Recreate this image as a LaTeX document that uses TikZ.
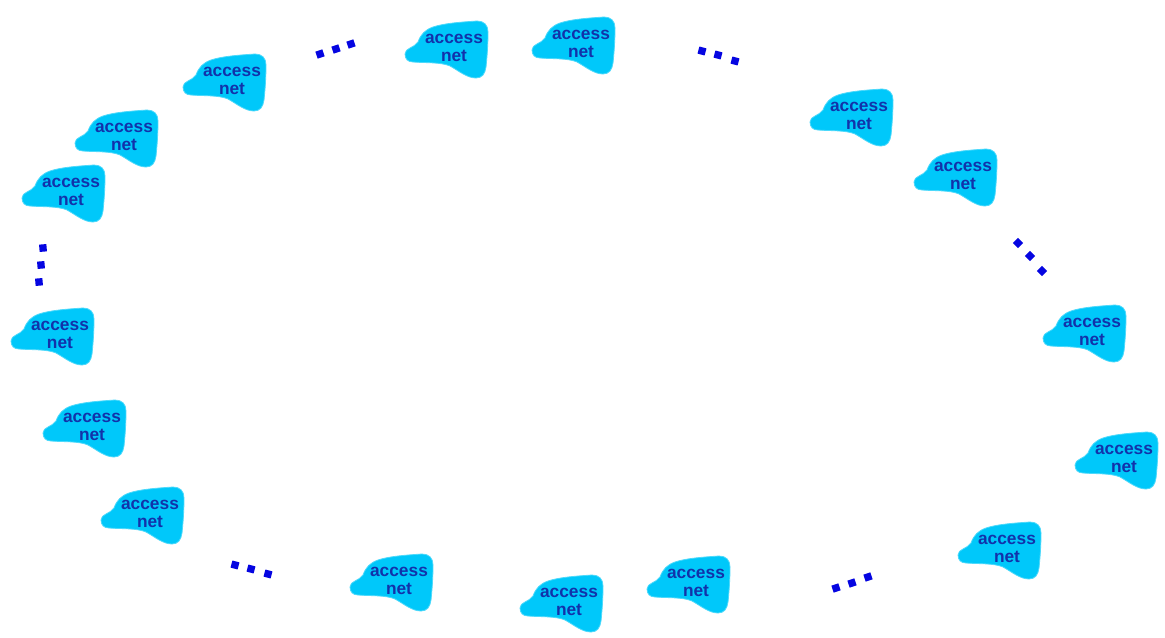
\documentclass[tikz,border=0pt]{standalone}
\usepackage{fontspec}
\setmainfont{Liberation Sans}
\definecolor{cloudblue}{RGB}{0,200,250}
\definecolor{nettextblue}{RGB}{18,50,170}
\definecolor{dotblue}{RGB}{5,5,225}
\tikzset{
  cloudshape/.style={fill=cloudblue,draw=cloudblue!70!white,line width=0.6pt},
  nettext/.style={text=nettextblue,font=\bfseries\fontsize{13}{13.5}\selectfont,align=center,inner sep=0pt},
  dotsq/.style={fill=dotblue,minimum size=5.5pt,inner sep=0pt,outer sep=0pt}
}
\newcommand{\accessnet}[3]{%
  \begin{scope}[shift={(#2-49,#3-16)}]
    \path[cloudshape] (0,33)
      .. controls (0,27) and (9,27) .. (13,21)
      .. controls (16,13) and (20,9) .. (28,6)
      .. controls (40,2) and (58,1) .. (72,0)
      .. controls (79,0) and (83,4) .. (83,11)
      .. controls (83,25) and (82,36) .. (81,46)
      .. controls (80,53) and (77,57) .. (71,57)
      .. controls (62,57) and (54,50) .. (45,45)
      .. controls (36,41) and (20,42) .. (8,41)
      .. controls (3,41) and (0,38) .. (0,33) -- cycle;
  \end{scope}
  \node[nettext] (#1) at (#2,#3+11) {access\\net};%
}
\newcommand{\dotsgroup}[7]{%
  \node[dotsq,rotate=#7] (#1a) at (#2,#3) {};
  \node[dotsq,rotate=#7] (#1b) at (#4,#5) {};
  \node[dotsq,rotate=#7] (#1c) at #6 {};%
}
\begin{document}
\begin{tikzpicture}[x=0.75pt,y=-0.75pt]
\useasboundingbox[fill=white] (0,0) rectangle (1165,638);
\accessnet{n1}{232}{70}
\accessnet{n2}{124}{126}
\accessnet{n3}{71}{181}
\accessnet{n4}{60}{324}
\accessnet{n5}{92}{416}
\accessnet{n6}{150}{503}
\accessnet{n7}{399}{570}
\accessnet{n8}{569}{591}
\accessnet{n9}{696}{572}
\accessnet{n10}{1007}{538}
\accessnet{n11}{1124}{448}
\accessnet{n12}{1092}{321}
\accessnet{n13}{963}{165}
\accessnet{n14}{859}{105}
\accessnet{n15}{581}{33}
\accessnet{n16}{454}{37}
\dotsgroup{da}{320}{54}{336}{49}{(351,44)}{18}
\dotsgroup{db}{702}{51}{718}{55}{(735,61)}{-15}
\dotsgroup{dc}{1018}{243}{1030}{256}{(1042,271)}{-45}
\dotsgroup{dd}{43}{248}{41}{265}{(39,282)}{5}
\dotsgroup{de}{235}{565}{251}{569}{(268,574)}{-15}
\dotsgroup{df}{836}{588}{852}{583}{(868,577)}{18}
\end{tikzpicture}
\end{document}
